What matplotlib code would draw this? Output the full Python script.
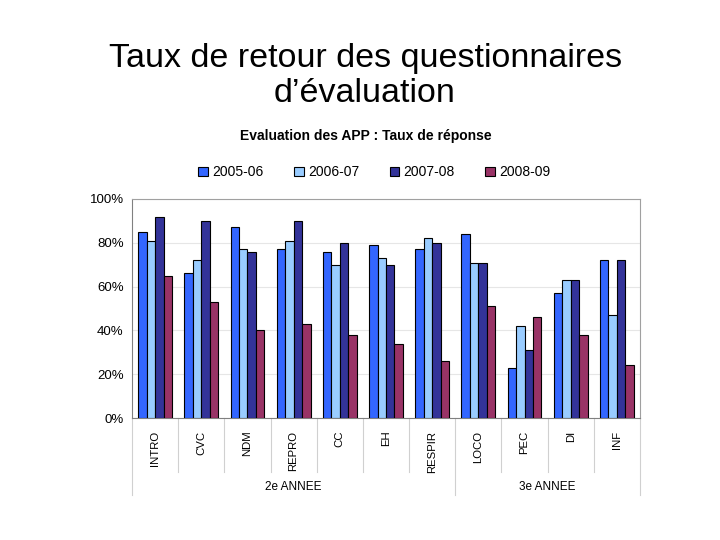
import numpy as np
import matplotlib.pyplot as plt
from matplotlib.transforms import blended_transform_factory

categories = ["INTRO", "CVC", "NDM", "REPRO", "CC", "EH", "RESPIR",
              "LOCO", "PEC", "DI", "INF"]
groups = ["2e ANNEE", "3e ANNEE"]
group_sizes = [7, 4]
years = ["2005-06", "2006-07", "2007-08", "2008-09"]
rate_0506 = [85, 66, 87, 77, 76, 79, 77, 84, 23, 57, 72]
rate_0607 = [81, 72, 77, 81, 70, 73, 82, 71, 42, 63, 47]
rate_0708 = [92, 90, 76, 90, 80, 70, 80, 71, 31, 63, 72]
rate_0809 = [65, 53, 40, 43, 38, 34, 26, 51, 46, 38, 24]
colors = ["#3366FF", "#99CCFF", "#333399", "#993366"]

plt.rcParams["font.family"] = ["Liberation Sans", "DejaVu Sans"]

fig = plt.figure(figsize=(7.2, 5.4), dpi=100)
fig.text(0.508, 0.892, "Taux de retour des questionnaires", ha="center",
         va="center", fontsize=24.5)
fig.text(0.507, 0.826, "d\u2019évaluation", ha="center", va="center",
         fontsize=24.5)

ax = fig.add_axes([0.1833, 0.2259, 0.7056, 0.4056])
x = np.arange(len(categories))
w = 0.183
series = [rate_0506, rate_0607, rate_0708, rate_0809]
for i, (vals, col, lab) in enumerate(zip(series, colors, years)):
    ax.bar(x + (i - 1.5) * w, vals, width=w, color=col, edgecolor="black",
           linewidth=0.8, label=lab, zorder=3)

ax.set_xlim(-0.5, len(categories) - 0.5)
ax.set_ylim(0, 100)
ax.set_yticks(range(0, 101, 20))
ax.set_yticklabels([f"{v}%" for v in range(0, 101, 20)], fontsize=9.5)
ax.yaxis.grid(True, color="#e6e6e6", lw=0.8, zorder=0)
ax.tick_params(axis="y", length=0, pad=6)
ax.set_xticks([])
for s in ["top", "right"]:
    ax.spines[s].set_color("#a0a0a0")
ax.spines["left"].set_color("#808080")
ax.spines["bottom"].set_color("#808080")

# hierarchical category axis
tr = blended_transform_factory(ax.transData, ax.transAxes)
for i, c in enumerate(categories):
    ax.text(i, -0.058, c, rotation=90, ha="center", va="top", fontsize=8.2,
            transform=tr)
bounds = np.cumsum([0] + group_sizes) - 0.5
for b in np.arange(-0.5, len(categories)):
    low = -0.352 if b in bounds else -0.247
    ax.plot([b, b], [0, low], color="#d0d0d0", lw=0.8, transform=tr,
            clip_on=False)
for g, a, b in zip(groups, bounds[:-1], bounds[1:]):
    ax.text((a + b) / 2, -0.315, g, ha="center", va="center", fontsize=8.5,
            transform=tr)

fig.text(0.508, 0.748, "Evaluation des APP : Taux de réponse", ha="center",
         va="center", fontsize=10, fontweight="bold")
fig.legend(loc="center", bbox_to_anchor=(0.52, 0.681), ncol=4, frameon=False,
           fontsize=10, handlelength=0.7, handleheight=0.7, columnspacing=2.2,
           handletextpad=0.3)

fig.savefig("out.png", dpi=100)
